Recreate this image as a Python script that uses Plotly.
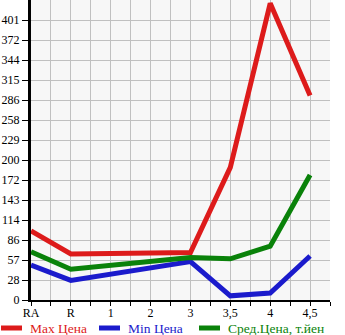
import plotly.graph_objects as go

categories = ["RA", "R", "1", "2", "3", "3,5", "4", "4,5"]
max_price = [99, 66, None, None, 68, 190, 425, 293]
min_price = [50, 28, None, None, 55, 6, 10, 63]
avg_price = [69, 44, None, None, 61, 59, 77, 179]

y_step = 28.65
y_tick_labels = ["0", "28", "57", "86", "114", "143", "172", "200", "229",
                 "258", "286", "315", "344", "372", "401"]
y_tick_vals = [i * y_step for i in range(len(y_tick_labels))]

x_idx = list(range(len(categories)))

series_names = ["Max Цена", "Min Цена", "Сред.Цена, т.йен"]
series_values = [max_price, min_price, avg_price]
series_colors = ["#dd1b1b", "#1b1bcc", "#0a820a"]

W, H = 345, 335
L, R, T, B = 31, 15, 0, 35
pw, ph = W - L - R, H - T - B

def px_x(p):
    return (p - L) / pw

def px_y(p):
    return (H - B - p) / ph

font = "Liberation Serif"
fig = go.Figure()
legend_starts = [0, 98, 198]
shapes, annots = [], []
for name, vals, col, lx in zip(series_names, series_values, series_colors, legend_starts):
    fig.add_trace(go.Scatter(
        x=x_idx, y=vals, mode="lines", connectgaps=True, name=name,
        line=dict(color=col, width=5), showlegend=False,
    ))
    shapes.append(dict(type="line", xref="paper", yref="paper",
                       x0=px_x(lx + 1), x1=px_x(lx + 22), y0=px_y(328), y1=px_y(328),
                       line=dict(color=col, width=5)))
    annots.append(dict(text=name, xref="paper", yref="paper", x=px_x(lx + 28), y=px_y(328),
                       xanchor="left", yanchor="middle", showarrow=False,
                       font=dict(family=font, size=13.5, color=col)))

fig.update_layout(
    width=W, height=H,
    margin=dict(l=L, r=R, t=T, b=B, pad=0),
    paper_bgcolor="white", plot_bgcolor="#f7f7f7",
    font=dict(family=font, size=12, color="black"),
    showlegend=False,
    shapes=shapes, annotations=annots,
    xaxis=dict(range=[0, 7.5], tickvals=x_idx, ticktext=categories,
               showgrid=True, gridcolor="#c0c0c0", gridwidth=1,
               ticks="", ticklabelstandoff=1,
               minor=dict(dtick=0.5, tick0=0, showgrid=True, gridcolor="#c0c0c0",
                          ticks="outside", ticklen=4, tickcolor="black"),
               showline=True, linecolor="black", linewidth=2,
               zeroline=False, fixedrange=True,
               tickfont=dict(family=font, size=12)),
    yaxis=dict(range=[0, 15 * y_step], tickvals=y_tick_vals, ticktext=y_tick_labels,
               showgrid=True, gridcolor="#c0c0c0", gridwidth=1,
               ticks="outside", ticklen=6, tickcolor="black",
               showline=True, linecolor="black", linewidth=3,
               zeroline=False, fixedrange=True,
               tickfont=dict(family=font, size=12)),
)

fig.write_html("out.html")
